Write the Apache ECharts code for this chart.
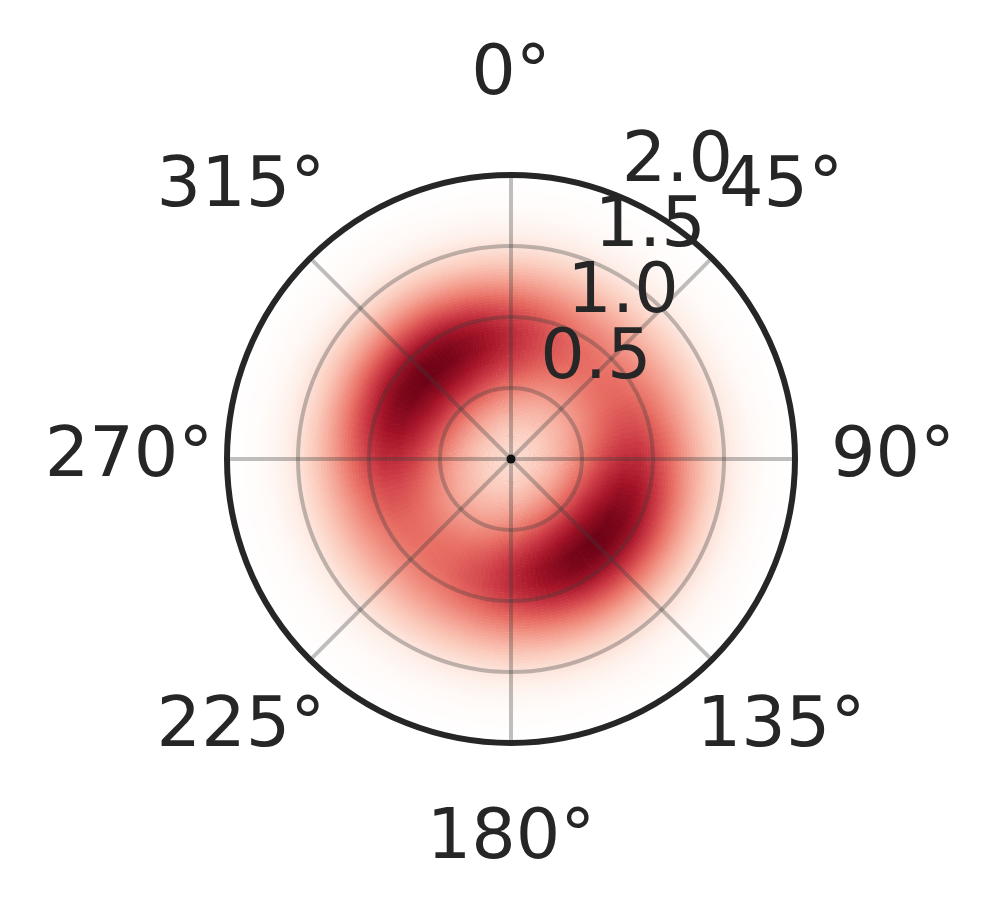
<!DOCTYPE html>
<html>
<head>
<meta charset="utf-8">
<script src="https://cdn.jsdelivr.net/npm/echarts@6/dist/echarts.min.js"></script>
<style>
  html, body { margin: 0; padding: 0; background: #fff; }
  #main { width: 999px; height: 919px; }
</style>
</head>
<body>
<div id="main"></div>
<script>
// 半径节点 (0 .. 2.0) 和角度节点 (度, 顺时针, 0° 在上)
var radii = [0, 0.1, 0.2, 0.3, 0.4, 0.5, 0.6, 0.7, 0.8, 0.9, 1.0, 1.1, 1.2, 1.3, 1.4, 1.5, 1.6, 1.7, 1.8, 1.9, 2.0];
var angles = [0, 15, 30, 45, 60, 75, 90, 105, 120, 135, 150, 165, 180, 195, 210, 225, 240, 255, 270, 285, 300, 315, 330, 345];

// 每个角度上沿半径读出的强度
var v0   = [0.22,0.24,0.27,0.33,0.41,0.51,0.62,0.71,0.76,0.76,0.69,0.58,0.46,0.34,0.24,0.15,0.09,0.05,0.02,0.01,0.00];
var v15  = [0.22,0.23,0.26,0.31,0.38,0.46,0.54,0.61,0.65,0.65,0.60,0.51,0.41,0.31,0.22,0.14,0.09,0.04,0.02,0.01,0.00];
var v30  = [0.22,0.23,0.25,0.30,0.35,0.42,0.48,0.54,0.57,0.57,0.53,0.46,0.38,0.29,0.21,0.13,0.08,0.04,0.02,0.01,0.00];
var v45  = [0.22,0.23,0.25,0.29,0.34,0.40,0.46,0.51,0.54,0.54,0.50,0.44,0.36,0.28,0.20,0.13,0.08,0.04,0.02,0.01,0.00];
var v60  = [0.22,0.23,0.25,0.30,0.35,0.42,0.48,0.54,0.57,0.57,0.53,0.46,0.38,0.29,0.21,0.13,0.08,0.04,0.02,0.01,0.00];
var v75  = [0.22,0.23,0.26,0.31,0.38,0.46,0.54,0.61,0.65,0.65,0.60,0.51,0.41,0.31,0.22,0.14,0.09,0.04,0.02,0.01,0.00];
var v90  = [0.22,0.24,0.27,0.33,0.41,0.51,0.62,0.71,0.76,0.76,0.69,0.58,0.46,0.34,0.24,0.15,0.09,0.05,0.02,0.01,0.00];
var v105 = [0.22,0.24,0.27,0.34,0.45,0.57,0.70,0.81,0.88,0.87,0.79,0.65,0.50,0.37,0.25,0.16,0.10,0.05,0.02,0.01,0.00];
var v120 = [0.22,0.24,0.28,0.36,0.47,0.61,0.76,0.88,0.96,0.95,0.86,0.70,0.54,0.39,0.27,0.17,0.10,0.05,0.03,0.01,0.00];
var v135 = [0.22,0.24,0.28,0.36,0.48,0.62,0.78,0.91,0.99,0.98,0.88,0.72,0.55,0.40,0.27,0.17,0.10,0.05,0.03,0.01,0.00];
var v150 = [0.22,0.24,0.28,0.36,0.47,0.61,0.76,0.88,0.96,0.95,0.86,0.70,0.54,0.39,0.27,0.17,0.10,0.05,0.03,0.01,0.00];
var v165 = [0.22,0.24,0.27,0.34,0.45,0.57,0.70,0.81,0.88,0.87,0.79,0.65,0.50,0.37,0.25,0.16,0.10,0.05,0.02,0.01,0.00];
var v180 = [0.22,0.24,0.27,0.33,0.41,0.51,0.62,0.71,0.76,0.76,0.69,0.58,0.46,0.34,0.24,0.15,0.09,0.05,0.02,0.01,0.00];
var v195 = [0.22,0.23,0.26,0.31,0.38,0.46,0.54,0.61,0.65,0.65,0.60,0.51,0.41,0.31,0.22,0.14,0.09,0.04,0.02,0.01,0.00];
var v210 = [0.22,0.23,0.25,0.30,0.35,0.42,0.48,0.54,0.57,0.57,0.53,0.46,0.38,0.29,0.21,0.13,0.08,0.04,0.02,0.01,0.00];
var v225 = [0.22,0.23,0.25,0.29,0.34,0.40,0.46,0.51,0.54,0.54,0.50,0.44,0.36,0.28,0.20,0.13,0.08,0.04,0.02,0.01,0.00];
var v240 = [0.22,0.23,0.25,0.30,0.35,0.42,0.48,0.54,0.57,0.57,0.53,0.46,0.38,0.29,0.21,0.13,0.08,0.04,0.02,0.01,0.00];
var v255 = [0.22,0.23,0.26,0.31,0.38,0.46,0.54,0.61,0.65,0.65,0.60,0.51,0.41,0.31,0.22,0.14,0.09,0.04,0.02,0.01,0.00];
var v270 = [0.22,0.24,0.27,0.33,0.41,0.51,0.62,0.71,0.76,0.76,0.69,0.58,0.46,0.34,0.24,0.15,0.09,0.05,0.02,0.01,0.00];
var v285 = [0.22,0.24,0.27,0.34,0.45,0.57,0.70,0.81,0.88,0.87,0.79,0.65,0.50,0.37,0.25,0.16,0.10,0.05,0.02,0.01,0.00];
var v300 = [0.22,0.24,0.28,0.36,0.47,0.61,0.76,0.88,0.96,0.95,0.86,0.70,0.54,0.39,0.27,0.17,0.10,0.05,0.03,0.01,0.00];
var v315 = [0.22,0.24,0.28,0.36,0.48,0.62,0.78,0.91,0.99,0.98,0.88,0.72,0.55,0.40,0.27,0.17,0.10,0.05,0.03,0.01,0.00];
var v330 = [0.22,0.24,0.28,0.36,0.47,0.61,0.76,0.88,0.96,0.95,0.86,0.70,0.54,0.39,0.27,0.17,0.10,0.05,0.03,0.01,0.00];
var v345 = [0.22,0.24,0.27,0.34,0.45,0.57,0.70,0.81,0.88,0.87,0.79,0.65,0.50,0.37,0.25,0.16,0.10,0.05,0.02,0.01,0.00];

var rows = [v0, v15, v30, v45, v60, v75, v90, v105, v120, v135, v150, v165,
            v180, v195, v210, v225, v240, v255, v270, v285, v300, v315, v330, v345];

// 刻度标签
var angleTicks = [0, 45, 90, 135, 180, 225, 270, 315];
var angleTickLabels = ['0°', '45°', '90°', '135°', '180°', '225°', '270°', '315°'];
var radialTicks = [0.5, 1.0, 1.5, 2.0];
var radialTickLabels = ['0.5', '1.0', '1.5', '2.0'];

// 白 -> 深红 色带
var cmapStops = [
  [0.00, [255, 255, 255]],
  [0.10, [254, 240, 234]],
  [0.25, [251, 205, 190]],
  [0.40, [244, 160, 145]],
  [0.55, [232, 110, 100]],
  [0.70, [205, 60, 70]],
  [0.85, [165, 20, 40]],
  [1.00, [105, 0, 20]]
];
function cmap(v) {
  v = Math.max(0, Math.min(1, v));
  for (var i = 1; i < cmapStops.length; i++) {
    if (v <= cmapStops[i][0]) {
      var a = cmapStops[i - 1], b = cmapStops[i];
      var t = (v - a[0]) / (b[0] - a[0]);
      return 'rgb(' + Math.round(a[1][0] + (b[1][0] - a[1][0]) * t) + ',' +
        Math.round(a[1][1] + (b[1][1] - a[1][1]) * t) + ',' +
        Math.round(a[1][2] + (b[1][2] - a[1][2]) * t) + ')';
    }
  }
  return 'rgb(105,0,20)';
}

// 网格单元: [r0, r1, a0, a1, 四个角的值]
var cells = [];
for (var j = 0; j < angles.length; j++) {
  var jn = (j + 1) % angles.length;
  var a0 = angles[j];
  var a1 = j + 1 < angles.length ? angles[j + 1] : 360;
  for (var i = 0; i < radii.length - 1; i++) {
    cells.push([radii[i], radii[i + 1], a0, a1,
      rows[j][i], rows[jn][i], rows[j][i + 1], rows[jn][i + 1]]);
  }
}

var NR = 5, NA = 6; // 每个单元细分, 平滑着色
function angOf(api, cs, a) {
  var p = api.coord([2, a]);
  return Math.atan2(p[1] - cs.cy, p[0] - cs.cx);
}
function renderItem(params, api) {
  var cs = params.coordSys;
  var r0 = api.value(0), r1 = api.value(1), a0 = api.value(2), a1 = api.value(3);
  var q = [api.value(4), api.value(5), api.value(6), api.value(7)];
  var kids = [];
  for (var i = 0; i < NR; i++) {
    var ra = r0 + (r1 - r0) * i / NR, rb = r0 + (r1 - r0) * (i + 1) / NR;
    var pa = api.coord([ra, a0]), pb = api.coord([rb, a0]);
    var ia = Math.hypot(pa[0] - cs.cx, pa[1] - cs.cy);
    var ib = Math.hypot(pb[0] - cs.cx, pb[1] - cs.cy);
    if (rb < 2) ib += 0.6; // 轻微重叠, 盖住接缝
    for (var k = 0; k < NA; k++) {
      var s = angOf(api, cs, a0 + (a1 - a0) * k / NA);
      var e = angOf(api, cs, a0 + (a1 - a0) * (k + 1) / NA);
      while (e < s) e += 2 * Math.PI;
      var tr = (i + 0.5) / NR, ta = (k + 0.5) / NA;
      var v = q[0] * (1 - tr) * (1 - ta) + q[1] * (1 - tr) * ta + q[2] * tr * (1 - ta) + q[3] * tr * ta;
      kids.push({
        type: 'sector',
        shape: { cx: cs.cx, cy: cs.cy, r0: ia, r: ib, startAngle: s, endAngle: e + 0.006, clockwise: true },
        style: { fill: cmap(v) }
      });
    }
  }
  return { type: 'group', children: kids };
}

var gridStyle = { color: 'rgba(60,60,60,0.33)', width: 4 };
var textColor = '#262626';
var fontName = 'DejaVu Sans';

var myChart = echarts.init(document.getElementById('main'), null, { width: 999, height: 919 });

var option = {
  animation: false,
  backgroundColor: '#fff',
  polar: { center: [511, 459], radius: 284 },
  angleAxis: {
    type: 'value', min: 0, max: 360, interval: 45,
    startAngle: 90, clockwise: true, z: 10,
    axisLine: { show: true, lineStyle: { color: textColor, width: 6 } },
    axisTick: { show: false },
    axisLabel: { show: false },
    splitLine: { show: true, lineStyle: gridStyle }
  },
  radiusAxis: {
    type: 'value', min: 0, max: 2, interval: 0.5, z: 10,
    axisLine: { show: false },
    axisTick: { show: false },
    axisLabel: { show: false },
    splitLine: { show: true, lineStyle: gridStyle }
  },
  series: [
    {
      type: 'custom',
      coordinateSystem: 'polar',
      renderItem: renderItem,
      encode: { radius: 0, angle: 2 },
      silent: true,
      z: 2,
      data: cells
    },
    {
      // 中心点
      type: 'scatter', coordinateSystem: 'polar', silent: true, z: 15,
      symbolSize: 9, itemStyle: { color: '#111', opacity: 1 },
      data: [[0, 0]]
    },
    {
      // 半径刻度标签 (22.5° 方向)
      type: 'scatter', coordinateSystem: 'polar', silent: true, clip: false, z: 20,
      symbolSize: 0, itemStyle: { color: 'transparent', opacity: 1 },
      data: radialTicks.map(function (r) { return [r, 22.5]; }),
      label: {
        show: true, position: 'inside', align: 'left', verticalAlign: 'bottom',
        offset: [2, 1], lineHeight: 70, opacity: 1,
        color: textColor, fontSize: 70, fontFamily: fontName,
        formatter: function (p) { return radialTickLabels[p.dataIndex]; }
      }
    },
    {
      // 角度刻度标签
      type: 'scatter', coordinateSystem: 'polar', silent: true, clip: false, z: 20,
      symbolSize: 0, itemStyle: { color: 'transparent', opacity: 1 },
      data: angleTicks.map(function (a) { return [2.69, a]; }),
      label: {
        show: true, position: 'inside', align: 'center', verticalAlign: 'middle',
        offset: [0, -1], lineHeight: 70, opacity: 1,
        color: textColor, fontSize: 70, fontFamily: fontName,
        formatter: function (p) { return angleTickLabels[p.dataIndex]; }
      }
    }
  ]
};

myChart.setOption(option);
</script>
</body>
</html>
